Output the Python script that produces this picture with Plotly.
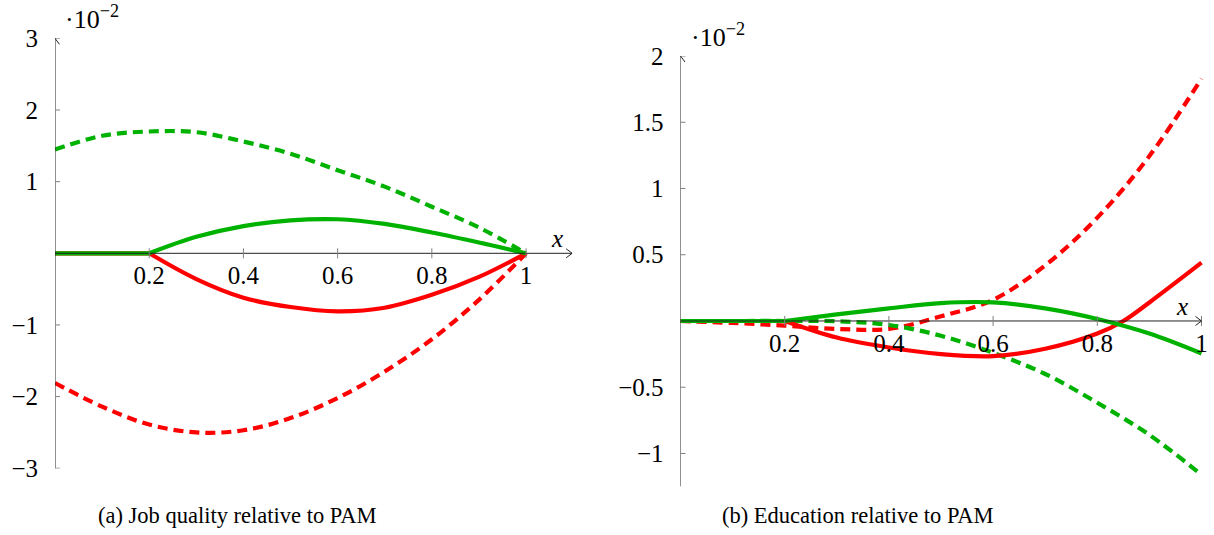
import plotly.graph_objects as go

# ---------------- data (values in units of 10^-2) ----------------
# Panel (a): Job quality relative to PAM
a_x_dashed = [0.0, 0.1, 0.2, 0.3, 0.4, 0.5, 0.6, 0.7, 0.8, 0.9, 1.0]
a_green_dashed = [1.45, 1.64, 1.70, 1.69, 1.56, 1.39, 1.16, 0.93, 0.65, 0.36, 0.0]
a_red_dashed = [-1.81, -2.14, -2.39, -2.50, -2.47, -2.30, -2.02, -1.65, -1.20, -0.65, 0.0]
a_x_solid = [0.0, 0.2, 0.3, 0.4, 0.5, 0.6, 0.7, 0.8, 0.9, 1.0]
a_green_solid = [0.0, 0.0, 0.23, 0.38, 0.46, 0.475, 0.41, 0.29, 0.15, 0.0]
a_red_solid = [0.0, 0.0, -0.36, -0.62, -0.75, -0.81, -0.76, -0.58, -0.33, 0.0]

# Panel (b): Education relative to PAM
b_x_dashed = [0.0, 0.1, 0.2, 0.3, 0.4, 0.5, 0.6, 0.7, 0.8, 0.9, 1.0]
b_green_dashed = [0.0, 0.0, 0.0, -0.002, -0.03, -0.112, -0.24, -0.40, -0.617, -0.86, -1.16]
b_red_dashed = [0.0, -0.015, -0.035, -0.06, -0.06, 0.035, 0.16, 0.42, 0.78, 1.245, 1.83]
b_x_green_solid = [0.0, 0.2, 0.3, 0.4, 0.5, 0.6, 0.7, 0.8, 0.9, 1.0]
b_green_solid = [0.0, 0.0, 0.05, 0.095, 0.135, 0.14, 0.095, 0.015, -0.095, -0.245]
b_x_red_solid = [0.0, 0.2, 0.3, 0.4, 0.5, 0.6, 0.7, 0.8, 0.85, 0.9, 1.0]
b_red_solid = [0.0, 0.0, -0.125, -0.2, -0.25, -0.265, -0.21, -0.095, 0.0, 0.14, 0.44]

# ticks
a_xticks = [0.2, 0.4, 0.6, 0.8, 1.0]
a_xtick_text = ["0.2", "0.4", "0.6", "0.8", "1"]
a_yticks = [-3, -2, -1, 1, 2, 3]
a_ytick_text = ["−3", "−2", "−1", "1", "2", "3"]
b_xticks = [0.2, 0.4, 0.6, 0.8, 1.0]
b_xtick_text = ["0.2", "0.4", "0.6", "0.8", "1"]
b_yticks = [-1, -0.5, 0.5, 1, 1.5, 2]
b_ytick_text = ["−1", "−0.5", "0.5", "1", "1.5", "2"]

caption_a = "(a) Job quality relative to PAM"
caption_b = "(b) Education relative to PAM"
exponent_text = "·10<sup>−2</sup>"

# ---------------- styling ----------------
W, H = 1214, 535
GREEN = "#00B200"
RED = "#FF0000"
LW = 4.2
DASH = "10px,6px"
FONT = "'Liberation Serif', 'DejaVu Serif', serif"
TICKFONT = dict(family=FONT, size=25, color="black")

fig = go.Figure()


def add_curve(x, y, color, dash, xa, ya):
    fig.add_trace(go.Scatter(x=x, y=y, mode="lines", xaxis=xa, yaxis=ya,
                             line=dict(color=color, width=LW, dash=dash, shape="spline", smoothing=1.0),
                             hoverinfo="skip"))


def add_kinked(x, y, color, xa, ya):
    # flat part up to the kink (x=0.2) straight, then smooth curve
    k = x.index(0.2)
    fig.add_trace(go.Scatter(x=x[:k + 1], y=y[:k + 1], mode="lines", xaxis=xa, yaxis=ya,
                             line=dict(color=color, width=LW), hoverinfo="skip"))
    fig.add_trace(go.Scatter(x=x[k:], y=y[k:], mode="lines", xaxis=xa, yaxis=ya,
                             line=dict(color=color, width=LW, shape="spline", smoothing=1.0),
                             hoverinfo="skip"))


# panel a
add_curve(a_x_dashed, a_red_dashed, RED, DASH, "x", "y")
add_curve(a_x_dashed, a_green_dashed, GREEN, DASH, "x", "y")
add_kinked(a_x_solid, a_red_solid, RED, "x", "y")
add_kinked(a_x_solid, a_green_solid, GREEN, "x", "y")
# panel b
add_curve(b_x_dashed, b_red_dashed, RED, DASH, "x2", "y2")
add_curve(b_x_dashed, b_green_dashed, GREEN, DASH, "x2", "y2")
add_kinked(b_x_red_solid, b_red_solid, RED, "x2", "y2")
add_kinked(b_x_green_solid, b_green_solid, GREEN, "x2", "y2")

# ---------------- axes geometry (pixels) ----------------
a_x0px, a_xend_px, a_xmax = 55.0, 572.2, 1.098
a_ybot_px, a_ytop_px = 468.4, 38.2
a_y0px = 253.3
b_x0px, b_xmax = 680.5, 1.01
b_xend_px = b_x0px + 521.0 * b_xmax
b_ybot_px, b_ytop_px = 486.6, 56.0
b_y0px = 321.0

common_axis = dict(showline=False, showgrid=False, zeroline=False, ticks="",
                   tickfont=TICKFONT, fixedrange=True, automargin=False)

fig.update_layout(
    width=W, height=H, margin=dict(l=0, r=0, t=0, b=0, autoexpand=False),
    plot_bgcolor="white", paper_bgcolor="white", showlegend=False,
    font=dict(family=FONT),
    xaxis=dict(domain=[a_x0px / W, a_xend_px / W], range=[0, a_xmax],
               anchor="free", position=(H - a_y0px) / H,
               tickvals=a_xticks, ticktext=a_xtick_text, ticklabelstandoff=5, **common_axis),
    yaxis=dict(domain=[(H - a_ybot_px) / H, (H - a_ytop_px) / H], range=[-3.002, 3.002],
               anchor="x", tickvals=a_yticks, ticktext=a_ytick_text, ticklabelstandoff=16, **common_axis),
    xaxis2=dict(domain=[b_x0px / W, b_xend_px / W], range=[0, b_xmax],
                anchor="free", position=(H - b_y0px) / H,
                tickvals=b_xticks, ticktext=b_xtick_text, ticklabelstandoff=5, **common_axis),
    yaxis2=dict(domain=[(H - b_ybot_px) / H, (H - b_ytop_px) / H], range=[-1.25, 2.0],
                anchor="x2", tickvals=b_yticks, ticktext=b_ytick_text, ticklabelstandoff=16, **common_axis),
)

AXC = "#222222"
TICKC = "#808080"
shapes = []


def axis_set(xr, yr, xmin, xmax, ymin, ymax, xticks, yticks):
    # axis lines
    shapes.append(dict(type="line", xref=xr, yref=yr, x0=xmin, x1=xmax, y0=0, y1=0,
                       line=dict(color=AXC, width=1), layer="above"))
    shapes.append(dict(type="line", xref=xr, yref=yr, x0=xmin, x1=xmin, y0=ymin, y1=ymax,
                       line=dict(color=AXC, width=1), layer="above"))
    # tick marks (centred on the axis)
    for t in xticks:
        shapes.append(dict(type="line", xref=xr, yref=yr, ysizemode="pixel", yanchor=0,
                           x0=t, x1=t, y0=-5, y1=5, line=dict(color=TICKC, width=1), layer="above"))
    for t in yticks:
        shapes.append(dict(type="line", xref=xr, yref=yr, xsizemode="pixel", xanchor=xmin,
                           x0=-5, x1=5, y0=t, y1=t, line=dict(color=TICKC, width=1), layer="above"))
    # arrow heads
    for sgn in (-1, 1):
        shapes.append(dict(type="line", xref=xr, yref=yr, xsizemode="pixel", ysizemode="pixel",
                           xanchor=xmax, yanchor=0, x0=-6, y0=4.5 * sgn, x1=0, y1=0,
                           line=dict(color=AXC, width=1), layer="above"))
        shapes.append(dict(type="line", xref=xr, yref=yr, xsizemode="pixel", ysizemode="pixel",
                           xanchor=xmin, yanchor=ymax, x0=4.5 * sgn, y0=-6, x1=0, y1=0,
                           line=dict(color=AXC, width=1), layer="above"))


axis_set("x", "y", 0, a_xmax, -3, 3, a_xticks, a_yticks)
axis_set("x2", "y2", 0, 1.0, -1.25, 2.0, b_xticks, b_yticks)
fig.update_layout(shapes=shapes)


def ann(text, px, py, size, xanchor="center", yanchor="middle"):
    return dict(text=text, x=px / W, y=1 - py / H, xref="paper", yref="paper",
                xanchor=xanchor, yanchor=yanchor, showarrow=False,
                font=dict(family=FONT, size=size, color="black"))


fig.update_layout(annotations=[
    ann("<i>x</i>", 557, 238, 25),
    ann("<i>x</i>", 1182, 306, 25),
    ann(exponent_text, 63, 17, 26, xanchor="left"),
    ann(exponent_text, 689, 35, 26, xanchor="left"),
    ann(caption_a, 237, 515, 22.5),
    ann(caption_b, 858, 515, 22.5),
])

fig.write_html("out.html", config={"displayModeBar": False},
               post_script="document.body.style.margin='0';")
